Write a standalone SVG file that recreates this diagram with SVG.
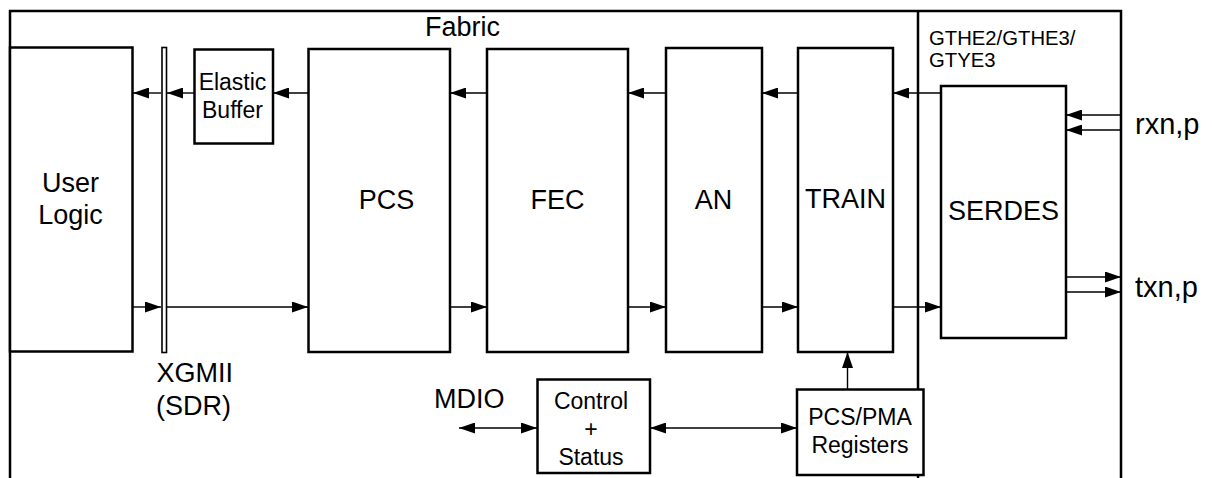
<svg xmlns="http://www.w3.org/2000/svg" width="1212" height="478" viewBox="0 0 1212 478">
<style>
.box{fill:#fff;stroke:#000;stroke-width:2.5}
.frame{fill:none;stroke:#000;stroke-width:2.5}
.ln{fill:none;stroke:#000;stroke-width:1.4}
.t{font-family:"Liberation Sans",Arial,sans-serif;fill:#000}
.big{font-size:27px}
.io{font-size:29px}
.mid{font-size:23px}
.sm{font-size:20.3px}
.c{text-anchor:middle}
</style>
<defs>
<marker id="ah" viewBox="0 0 16 11" refX="16" refY="5.5" markerWidth="16" markerHeight="11" markerUnits="userSpaceOnUse" orient="auto-start-reverse">
<path d="M0,0 L16,5.5 L0,11 Z" fill="#000"/>
</marker>
</defs>
<rect fill="#fff" x="0" y="0" width="1212" height="478"/>
<g id="frame">
<path class="frame" d="M10,490 V11 H1121 V490"/>
<line class="frame" x1="918" y1="11" x2="918" y2="490"/>
<text class="t big c" x="462.5" y="36">Fabric</text>
<text class="t sm" x="929" y="45">GTHE2/GTHE3/</text>
<text class="t sm" x="929" y="67">GTYE3</text>
</g>
<g id="connectors">
<line class="ln" x1="941" y1="93" x2="893" y2="93" marker-end="url(#ah)"/>
<line class="ln" x1="798" y1="93" x2="762" y2="93" marker-end="url(#ah)"/>
<line class="ln" x1="666" y1="93" x2="628" y2="93" marker-end="url(#ah)"/>
<line class="ln" x1="487" y1="93" x2="450" y2="93" marker-end="url(#ah)"/>
<line class="ln" x1="308" y1="93" x2="273" y2="93" marker-end="url(#ah)"/>
<line class="ln" x1="194" y1="93" x2="167" y2="93" marker-end="url(#ah)"/>
<line class="ln" x1="161" y1="93" x2="133" y2="93" marker-end="url(#ah)"/>
<line class="ln" x1="133" y1="307" x2="161" y2="307" marker-end="url(#ah)"/>
<line class="ln" x1="167" y1="307" x2="308" y2="307" marker-end="url(#ah)"/>
<line class="ln" x1="450" y1="307" x2="487" y2="307" marker-end="url(#ah)"/>
<line class="ln" x1="628" y1="307" x2="666" y2="307" marker-end="url(#ah)"/>
<line class="ln" x1="762" y1="307" x2="798" y2="307" marker-end="url(#ah)"/>
<line class="ln" x1="893" y1="307" x2="941" y2="307" marker-end="url(#ah)"/>
<line class="ln" x1="1121" y1="115" x2="1066" y2="115" marker-end="url(#ah)"/>
<line class="ln" x1="1121" y1="130" x2="1066" y2="130" marker-end="url(#ah)"/>
<line class="ln" x1="1066" y1="277" x2="1121" y2="277" marker-end="url(#ah)"/>
<line class="ln" x1="1066" y1="292" x2="1121" y2="292" marker-end="url(#ah)"/>
<line class="ln" x1="459" y1="428" x2="537" y2="428" marker-start="url(#ah)" marker-end="url(#ah)"/>
<line class="ln" x1="650" y1="428" x2="797" y2="428" marker-start="url(#ah)" marker-end="url(#ah)"/>
<line class="ln" x1="847.5" y1="389.5" x2="847.5" y2="352" marker-end="url(#ah)"/>
</g>
<g id="user-logic">
<rect class="box" x="10" y="47.5" width="122.5" height="304"/>
<text class="t big c" x="70.5" y="192">User</text>
<text class="t big c" x="70.5" y="224">Logic</text>
</g>
<g id="xgmii">
<rect x="162" y="47.5" width="4.5" height="305" fill="#fff" stroke="#000" stroke-width="1.6"/>
<text class="t big" x="156.5" y="382">XGMII</text>
<text class="t big" x="156" y="415">(SDR)</text>
</g>
<g id="elastic-buffer">
<rect class="box" x="194.5" y="49.5" width="78.5" height="94"/>
<text class="t mid c" x="232.5" y="89.5">Elastic</text>
<text class="t mid c" x="232.5" y="117.5">Buffer</text>
</g>
<g id="pcs">
<rect class="box" x="308.5" y="49" width="141.5" height="303"/>
<text class="t big c" x="386.5" y="209">PCS</text>
</g>
<g id="fec">
<rect class="box" x="487" y="49" width="141" height="303"/>
<text class="t big c" x="557.5" y="209">FEC</text>
</g>
<g id="an">
<rect class="box" x="666" y="48" width="96" height="304"/>
<text class="t big c" x="713.5" y="209">AN</text>
</g>
<g id="train">
<rect class="box" x="798" y="48" width="95" height="304"/>
<text class="t big c" x="845.5" y="207.5">TRAIN</text>
</g>
<g id="serdes">
<rect class="box" x="941" y="86" width="125" height="252"/>
<text class="t big c" x="1003.5" y="220">SERDES</text>
</g>
<g id="rx-label"><text class="t io" x="1135" y="134">rxn,p</text></g>
<g id="tx-label"><text class="t io" x="1135" y="297">txn,p</text></g>
<g id="mdio"><text class="t big" x="434" y="408">MDIO</text></g>
<g id="control-status">
<rect class="box" x="537.5" y="379.5" width="112.5" height="93.5"/>
<text class="t mid c" x="591" y="409">Control</text>
<text class="t mid c" x="591" y="437">+</text>
<text class="t mid c" x="591" y="465">Status</text>
</g>
<g id="pcs-pma-registers">
<rect class="box" x="797" y="389.5" width="126.5" height="85.5"/>
<text class="t mid c" x="860" y="425">PCS/PMA</text>
<text class="t mid c" x="860" y="453">Registers</text>
</g>
</svg>
